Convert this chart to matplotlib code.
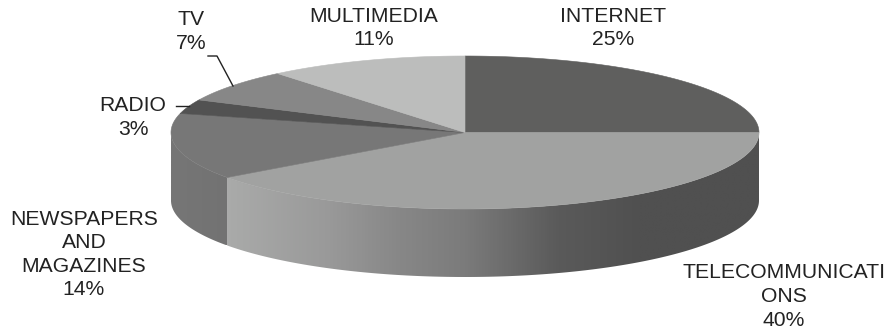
import numpy as np
import matplotlib
matplotlib.use("Agg")
import matplotlib.pyplot as plt
from matplotlib.patches import Polygon
from matplotlib.colors import LinearSegmentedColormap

plt.rcParams['font.family'] = ['Liberation Sans', 'DejaVu Sans']

# Datos del grafico
labels = ["INTERNET", "TELECOMMUNICATI\nONS", "NEWSPAPERS\nAND\nMAGAZINES", "RADIO", "TV", "MULTIMEDIA"]
values = [25, 40, 14, 3, 7, 11]
top_colors = ["#5f5f5e", "#a1a2a1", "#777777", "#525252", "#878787", "#bcbdbc"]
label_pos = [(613, 28), (784, 296.5), (84, 254.5), (133, 117.5), (191, 31.5), (374, 28)]

# Geometria de la elipse en pixeles
cx, cy = 465, 132.5
rx, ry = 294, 76.5
depth = 68


def arc(start, end, dy=0):
    """Puntos del borde entre dos angulos (horario, desde arriba)"""
    t = np.radians(np.linspace(start, end, 200))
    return np.column_stack([cx + rx * np.sin(t), cy + dy - ry * np.cos(t)])


def side_band(start, end, cmap, ax):
    """Pared lateral con degradado horizontal"""
    band = np.vstack([arc(start, end), arc(end, start, depth)])
    x0, x1 = band[:, 0].min(), band[:, 0].max()
    y0, y1 = band[:, 1].min(), band[:, 1].max()
    grad = np.linspace(x0, x1, 500).reshape(1, -1)
    im = ax.imshow(grad, extent=(x0, x1, y1, y0), aspect='auto', cmap=cmap,
                   vmin=cx - rx, vmax=cx + rx, zorder=1, interpolation='bilinear')
    patch = Polygon(band, closed=True, transform=ax.transData, facecolor='none', edgecolor='none')
    ax.add_patch(patch)
    im.set_clip_path(patch)


fig = plt.figure(figsize=(8.93, 3.29), dpi=100)
ax = fig.add_axes([0, 0, 1, 1])

# Degradados de las paredes (posicion relativa en x de 171 a 759)
telecom_cmap = LinearSegmentedColormap.from_list("telecom", [
    (0.0, "#ababab"), (0.10, "#a9aaa9"), (0.26, "#9a9a9a"), (0.39, "#878787"),
    (0.50, "#7b7b7b"), (0.66, "#5a5a5a"), (0.80, "#505050"), (1.0, "#505050")])
news_cmap = LinearSegmentedColormap.from_list("news", [
    (0.0, "#767676"), (0.10, "#727272"), (1.0, "#727272")])

angles = np.cumsum([0] + values) * 3.6
side_band(90, angles[2], telecom_cmap, ax)
side_band(angles[2], 270, news_cmap, ax)

# Caras superiores
for i in range(len(values)):
    pts = np.vstack([[cx, cy], arc(angles[i], angles[i + 1])])
    ax.add_patch(Polygon(pts, closed=True, facecolor=top_colors[i], edgecolor=top_colors[i],
                         linewidth=0.4, zorder=2))

# Etiquetas
for lab, val, (x, y) in zip(labels, values, label_pos):
    ax.text(x, y, f"{lab}\n{val}%", ha='center', va='center', fontsize=15.2,
            color='#222222', linespacing=1.3, zorder=4)

# Lineas guia
ax.plot([208, 217, 233], [56, 56, 86], color='#222222', lw=1.0, zorder=3)
ax.plot([176, 189], [105.5, 105.5], color='#222222', lw=1.0, zorder=3)

ax.set_xlim(0, 893)
ax.set_ylim(329, 0)
ax.axis('off')

fig.savefig('out.png', dpi=100)
